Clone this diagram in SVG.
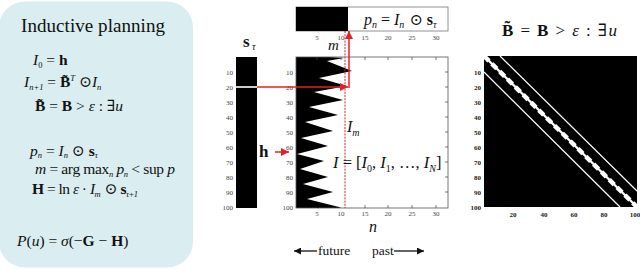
<svg xmlns="http://www.w3.org/2000/svg" width="640" height="270" viewBox="0 0 640 270">
<defs>
<style>
.serif{font-family:"Liberation Serif","Times New Roman",serif;fill:#111}
.it{font-style:italic}
.bd{font-weight:bold}
.eq{font-family:"Liberation Serif","Times New Roman",serif;font-size:15.5px;fill:#111}
.sym{font-family:"DejaVu Serif","Liberation Serif",serif}
.tick{font-family:"Liberation Serif","Times New Roman",serif;font-size:7px;fill:#444}
.tickb{font-family:"Liberation Serif","Times New Roman",serif;font-size:7px;font-weight:bold;fill:#222}
.frame{fill:none;stroke:#555;stroke-width:0.8}
.tk{stroke:#444;stroke-width:0.7}
.red{stroke:#e81e25;stroke-width:1.5;fill:none}
.blk{stroke:#111;stroke-width:1.3;fill:none}
</style>
<marker id="ahr" viewBox="0 0 10 10" markerWidth="9" markerHeight="8" refX="10" refY="5" orient="auto" markerUnits="userSpaceOnUse"><path d="M0,0 L10,5 L0,10 z" fill="#e81e25"/></marker>
<marker id="ahk" viewBox="0 0 10 10" markerWidth="9" markerHeight="7" refX="10" refY="5" orient="auto" markerUnits="userSpaceOnUse"><path d="M0,0 L10,5 L0,10 z" fill="#111"/></marker>
</defs>
<rect width="640" height="270" fill="#fff"/>

<g id="panel">
<rect x="-1" y="1.5" width="194" height="266" rx="26" fill="#daedf0"/>
<text class="serif" x="21" y="32" font-size="19" textLength="144" lengthAdjust="spacing">Inductive planning</text>
<text class="eq" x="33" y="65"><tspan class="it">I</tspan><tspan font-size="8.5" dy="2.5">0</tspan><tspan dy="-2.5"> = </tspan><tspan class="bd">h</tspan></text>
<text class="eq" x="24" y="87"><tspan class="it">I</tspan><tspan font-size="8.5" class="it" dy="2.5">n+1</tspan><tspan dy="-2.5"> = </tspan><tspan class="bd">B̃</tspan><tspan font-size="8.5" class="it" dy="-6">T</tspan><tspan dy="6"> </tspan><tspan class="sym">⊙</tspan><tspan class="it">I</tspan><tspan font-size="8.5" class="it" dy="2.5">n</tspan></text>
<text class="eq" x="35" y="111"><tspan class="bd">B̃</tspan><tspan> = </tspan><tspan class="bd">B</tspan><tspan> &gt; </tspan><tspan class="it">ε</tspan><tspan> : </tspan><tspan class="sym">∃</tspan><tspan class="it">u</tspan></text>
<text class="eq" x="30" y="155.5"><tspan class="it">p</tspan><tspan font-size="8.5" class="it" dy="2.5">n</tspan><tspan dy="-2.5"> = </tspan><tspan class="it">I</tspan><tspan font-size="8.5" class="it" dy="2.5">n</tspan><tspan dy="-2.5"> </tspan><tspan class="sym">⊙</tspan><tspan class="bd"> s</tspan><tspan font-size="8.5" class="it" dy="2.5">τ</tspan></text>
<text class="eq" x="35" y="174" textLength="140" lengthAdjust="spacing"><tspan class="it">m</tspan><tspan> = arg max</tspan><tspan font-size="8.5" class="it" dy="2.5">n</tspan><tspan dy="-2.5"> </tspan><tspan class="it">p</tspan><tspan font-size="8.5" class="it" dy="2.5">n</tspan><tspan dy="-2.5"> &lt; sup </tspan><tspan class="it">p</tspan></text>
<text class="eq" x="32" y="194" textLength="106" lengthAdjust="spacing"><tspan class="bd">H</tspan><tspan> = ln </tspan><tspan class="it">ε</tspan><tspan> · </tspan><tspan class="it">I</tspan><tspan font-size="8.5" class="it" dy="2.5">m</tspan><tspan dy="-2.5" class="sym"> ⊙</tspan><tspan class="bd"> s</tspan><tspan font-size="8.5" class="it" dy="2.5">τ+1</tspan></text>
<text class="eq" x="17" y="246"><tspan class="it">P</tspan><tspan>(</tspan><tspan class="it">u</tspan><tspan>) = </tspan><tspan class="it">σ</tspan><tspan>(−</tspan><tspan class="bd">G</tspan><tspan> − </tspan><tspan class="bd">H</tspan><tspan>)</tspan></text>
</g>

<g id="s-tau">
<text class="serif bd" x="243" y="47" font-size="17">s</text>
<text class="serif it" x="252" y="50" font-size="10">τ</text>
<rect x="236" y="57" width="21" height="151" fill="#000"/>
<rect x="236" y="86.2" width="21" height="1.6" fill="#fff"/>
<g class="tick" text-anchor="end">
<text x="233" y="74.5">10</text><text x="233" y="89.5">20</text><text x="233" y="104.5">30</text><text x="233" y="119.5">40</text><text x="233" y="134.5">50</text>
<text x="233" y="149.5">60</text><text x="233" y="164.5">70</text><text x="233" y="179.5">80</text><text x="233" y="194.5">90</text><text x="233" y="210">100</text>
</g>
</g>

<g id="p-bar">
<rect x="296" y="7" width="152" height="24" fill="#fff" stroke="#777" stroke-width="0.8"/>
<rect x="296" y="7" width="52" height="24" fill="#000"/>
<text class="serif" x="364" y="25" font-size="16"><tspan class="it">p</tspan><tspan font-size="10" class="it" dy="3">n</tspan><tspan dy="-3"> = </tspan><tspan class="it">I</tspan><tspan font-size="10" class="it" dy="3">n</tspan><tspan dy="-3" class="sym"> ⊙</tspan><tspan class="bd"> s</tspan><tspan font-size="10" class="it" dy="3">τ</tspan></text>
<g class="tick" text-anchor="middle">
<text x="317" y="40">5</text><text x="341" y="40">10</text><text x="365" y="40">15</text><text x="388" y="40">20</text><text x="412" y="40">25</text><text x="436" y="40">30</text>
</g>
</g>

<g id="I-plot">
<text class="serif it" x="328" y="50" font-size="15">m</text>
<rect x="296" y="57" width="152" height="151" fill="#fff"/>
<polygon fill="#000" points="296,57 330,57 344,58 327,61 352,71 319,78 347,86 314,92 343,100 309,107 338,115 305,122 333,131 301,138 328,146 297,154 324,161 300,169 328,177 303,184 333,192 307,199 339,207 341,208 296,208"/>
<rect x="296" y="57" width="152" height="151" class="frame"/>
<g class="tk">
<line x1="317" y1="57" x2="317" y2="60"/><line x1="341" y1="57" x2="341" y2="60"/><line x1="365" y1="57" x2="365" y2="60"/><line x1="388" y1="57" x2="388" y2="60"/><line x1="412" y1="57" x2="412" y2="60"/><line x1="436" y1="57" x2="436" y2="60"/>
<line x1="365" y1="208" x2="365" y2="205"/><line x1="388" y1="208" x2="388" y2="205"/><line x1="412" y1="208" x2="412" y2="205"/><line x1="436" y1="208" x2="436" y2="205"/>
<line x1="448" y1="72" x2="445" y2="72"/><line x1="448" y1="87" x2="445" y2="87"/><line x1="448" y1="102" x2="445" y2="102"/><line x1="448" y1="117" x2="445" y2="117"/><line x1="448" y1="132" x2="445" y2="132"/><line x1="448" y1="147" x2="445" y2="147"/><line x1="448" y1="162" x2="445" y2="162"/><line x1="448" y1="177" x2="445" y2="177"/><line x1="448" y1="192" x2="445" y2="192"/>
</g>
<g class="tick" text-anchor="end">
<text x="293" y="74.5">10</text><text x="293" y="89.5">20</text><text x="293" y="104.5">30</text><text x="293" y="119.5">40</text><text x="293" y="134.5">50</text>
<text x="293" y="149.5">60</text><text x="293" y="164.5">70</text><text x="293" y="179.5">80</text><text x="293" y="194.5">90</text><text x="293" y="210">100</text>
</g>
<g class="tick" text-anchor="middle">
<text x="317" y="216">5</text><text x="341" y="216">10</text><text x="365" y="216">15</text><text x="388" y="216">20</text><text x="412" y="216">25</text><text x="436" y="216">30</text>
</g>
<line x1="345" y1="31" x2="345" y2="208" stroke="#e81e25" stroke-width="1" stroke-dasharray="2 1.2"/>
<text class="serif" x="347" y="132" font-size="16"><tspan class="it">I</tspan><tspan class="it" font-size="10" dy="4">m</tspan></text>
<text class="serif" x="333" y="168" font-size="16.5"><tspan class="it">I</tspan><tspan> = [</tspan><tspan class="it">I</tspan><tspan font-size="10" dy="4">0</tspan><tspan dy="-4">, </tspan><tspan class="it">I</tspan><tspan font-size="10" dy="4">1</tspan><tspan dy="-4">, …, </tspan><tspan class="it">I</tspan><tspan font-size="10" class="it" dy="4">N</tspan><tspan dy="-4">]</tspan></text>
<text class="serif it" x="369" y="232" font-size="16">n</text>
<text class="serif bd" x="259" y="157" font-size="17">h</text>
</g>

<g id="B-matrix">
<text class="serif" x="502" y="36" font-size="17" textLength="115" lengthAdjust="spacing"><tspan class="bd">B̃</tspan><tspan> = </tspan><tspan class="bd">B</tspan><tspan> &gt; </tspan><tspan class="it">ε</tspan><tspan> : </tspan><tspan class="sym">∃</tspan><tspan class="it">u</tspan></text>
<rect x="484" y="56" width="153" height="151" fill="#000"/>
<line x1="484" y1="56" x2="637" y2="207" stroke="#fff" stroke-width="2.4"/>
<line x1="484" y1="56" x2="637" y2="207" stroke="#fff" stroke-width="4.5" stroke-dasharray="7 4"/>
<line x1="500" y1="56" x2="637" y2="191" stroke="#fff" stroke-width="1.2"/>
<line x1="484" y1="72" x2="620" y2="207" stroke="#fff" stroke-width="1.2"/>
<g class="tickb" text-anchor="end">
<text x="481" y="74.5">10</text><text x="481" y="89.5">20</text><text x="481" y="104.5">30</text><text x="481" y="119.5">40</text><text x="481" y="134.5">50</text>
<text x="481" y="149.5">60</text><text x="481" y="164.5">70</text><text x="481" y="179.5">80</text><text x="481" y="194.5">90</text><text x="481" y="209.5">100</text>
</g>
<g class="tickb" text-anchor="middle">
<text x="513" y="217">20</text><text x="544" y="217">40</text><text x="574" y="217">60</text><text x="604" y="217">80</text><text x="635" y="217">100</text>
</g>
</g>

<g id="time-axis">
<text class="serif" x="318" y="255" font-size="13.5">future</text>
<text class="serif" x="372" y="255" font-size="13.5">past</text>
</g>

<g id="connectors">
<line class="red" x1="257" y1="87" x2="348" y2="87" marker-end="url(#ahr)"/>
<line class="red" x1="349" y1="88" x2="349" y2="31" marker-end="url(#ahr)"/>
<line class="red" x1="275" y1="152" x2="289" y2="152" marker-end="url(#ahr)"/>
<line class="blk" x1="317" y1="251" x2="294" y2="251" marker-end="url(#ahk)"/>
<line class="blk" x1="394" y1="251" x2="424" y2="251" marker-end="url(#ahk)"/>
</g>
</svg>
